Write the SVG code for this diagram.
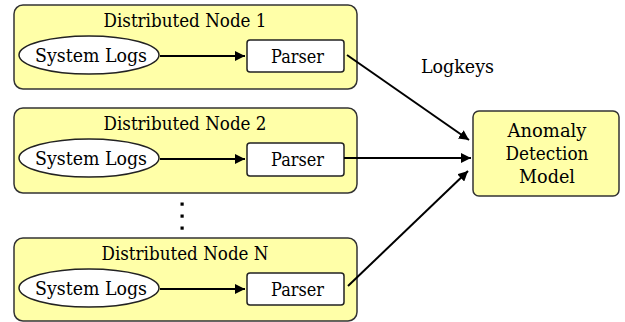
<svg xmlns="http://www.w3.org/2000/svg" width="625" height="322" viewBox="0 0 625 322">
<style>
.node{fill:#FFFFA8;stroke:#333;stroke-width:1.5}
.ell{fill:#fff;stroke:#222;stroke-width:1.5}
.par{fill:#fff;stroke:#222;stroke-width:1.5}
text{font-family:'DejaVu Serif','Liberation Serif',serif;font-size:19px;fill:#000;text-anchor:middle}
.c{stroke:#000;stroke-width:2;fill:none;marker-end:url(#ah)}
</style>
<defs>
<marker id="ah" viewBox="0 0 10 10" refX="10" refY="5" markerWidth="5" markerHeight="5" orient="auto" markerUnits="strokeWidth">
<path d="M0,0 L10,5 L0,10 z" fill="#000"/>
</marker>
</defs>
<rect width="625" height="322" fill="#fff"/>
<g id="node1">
<rect class="node" x="14" y="5" width="343" height="84" rx="9"/>
<text x="185" y="27" textLength="163" lengthAdjust="spacingAndGlyphs">Distributed Node 1</text>
<ellipse class="ell" cx="89" cy="55" rx="70" ry="19"/>
<text x="91" y="62" textLength="112" lengthAdjust="spacingAndGlyphs">System Logs</text>
<rect class="par" x="247" y="40" width="97" height="32" rx="3"/>
<text x="297.5" y="63" textLength="53" lengthAdjust="spacingAndGlyphs">Parser</text>
</g>
<g id="node2">
<rect class="node" x="14" y="108" width="343" height="85" rx="9"/>
<text x="185" y="130" textLength="163" lengthAdjust="spacingAndGlyphs">Distributed Node 2</text>
<ellipse class="ell" cx="89" cy="158" rx="70" ry="19"/>
<text x="91" y="165" textLength="112" lengthAdjust="spacingAndGlyphs">System Logs</text>
<rect class="par" x="247" y="143" width="97" height="33" rx="3"/>
<text x="297.5" y="166" textLength="53" lengthAdjust="spacingAndGlyphs">Parser</text>
</g>
<g id="dots" fill="#000">
<rect x="180.5" y="202.5" width="3.2" height="3.2"/>
<rect x="180.5" y="214.5" width="3.2" height="3.2"/>
<rect x="180.5" y="226.5" width="3.2" height="3.2"/>
</g>
<g id="nodeN">
<rect class="node" x="14" y="238" width="343" height="83" rx="9"/>
<text x="185" y="260" textLength="167" lengthAdjust="spacingAndGlyphs">Distributed Node N</text>
<ellipse class="ell" cx="89" cy="288" rx="70" ry="19"/>
<text x="91" y="295" textLength="112" lengthAdjust="spacingAndGlyphs">System Logs</text>
<rect class="par" x="247" y="273" width="97" height="32" rx="3"/>
<text x="297.5" y="296" textLength="53" lengthAdjust="spacingAndGlyphs">Parser</text>
</g>
<g id="anomaly">
<rect class="node" x="473" y="111" width="146" height="85" rx="6"/>
<text x="547" y="137" textLength="79" lengthAdjust="spacingAndGlyphs">Anomaly</text>
<text x="547" y="160" textLength="83" lengthAdjust="spacingAndGlyphs">Detection</text>
<text x="547" y="183" textLength="56" lengthAdjust="spacingAndGlyphs">Model</text>
</g>
<g id="connectors">
<line class="c" x1="160" y1="56" x2="245" y2="56"/>
<line class="c" x1="160" y1="159" x2="245" y2="159"/>
<line class="c" x1="160" y1="289" x2="245" y2="289"/>
<line class="c" x1="347" y1="55" x2="469" y2="140"/>
<line class="c" x1="344" y1="158" x2="471" y2="158"/>
<line class="c" x1="348" y1="286" x2="468" y2="171"/>
<text x="457.5" y="73" textLength="73" lengthAdjust="spacingAndGlyphs">Logkeys</text>
</g>
</svg>
